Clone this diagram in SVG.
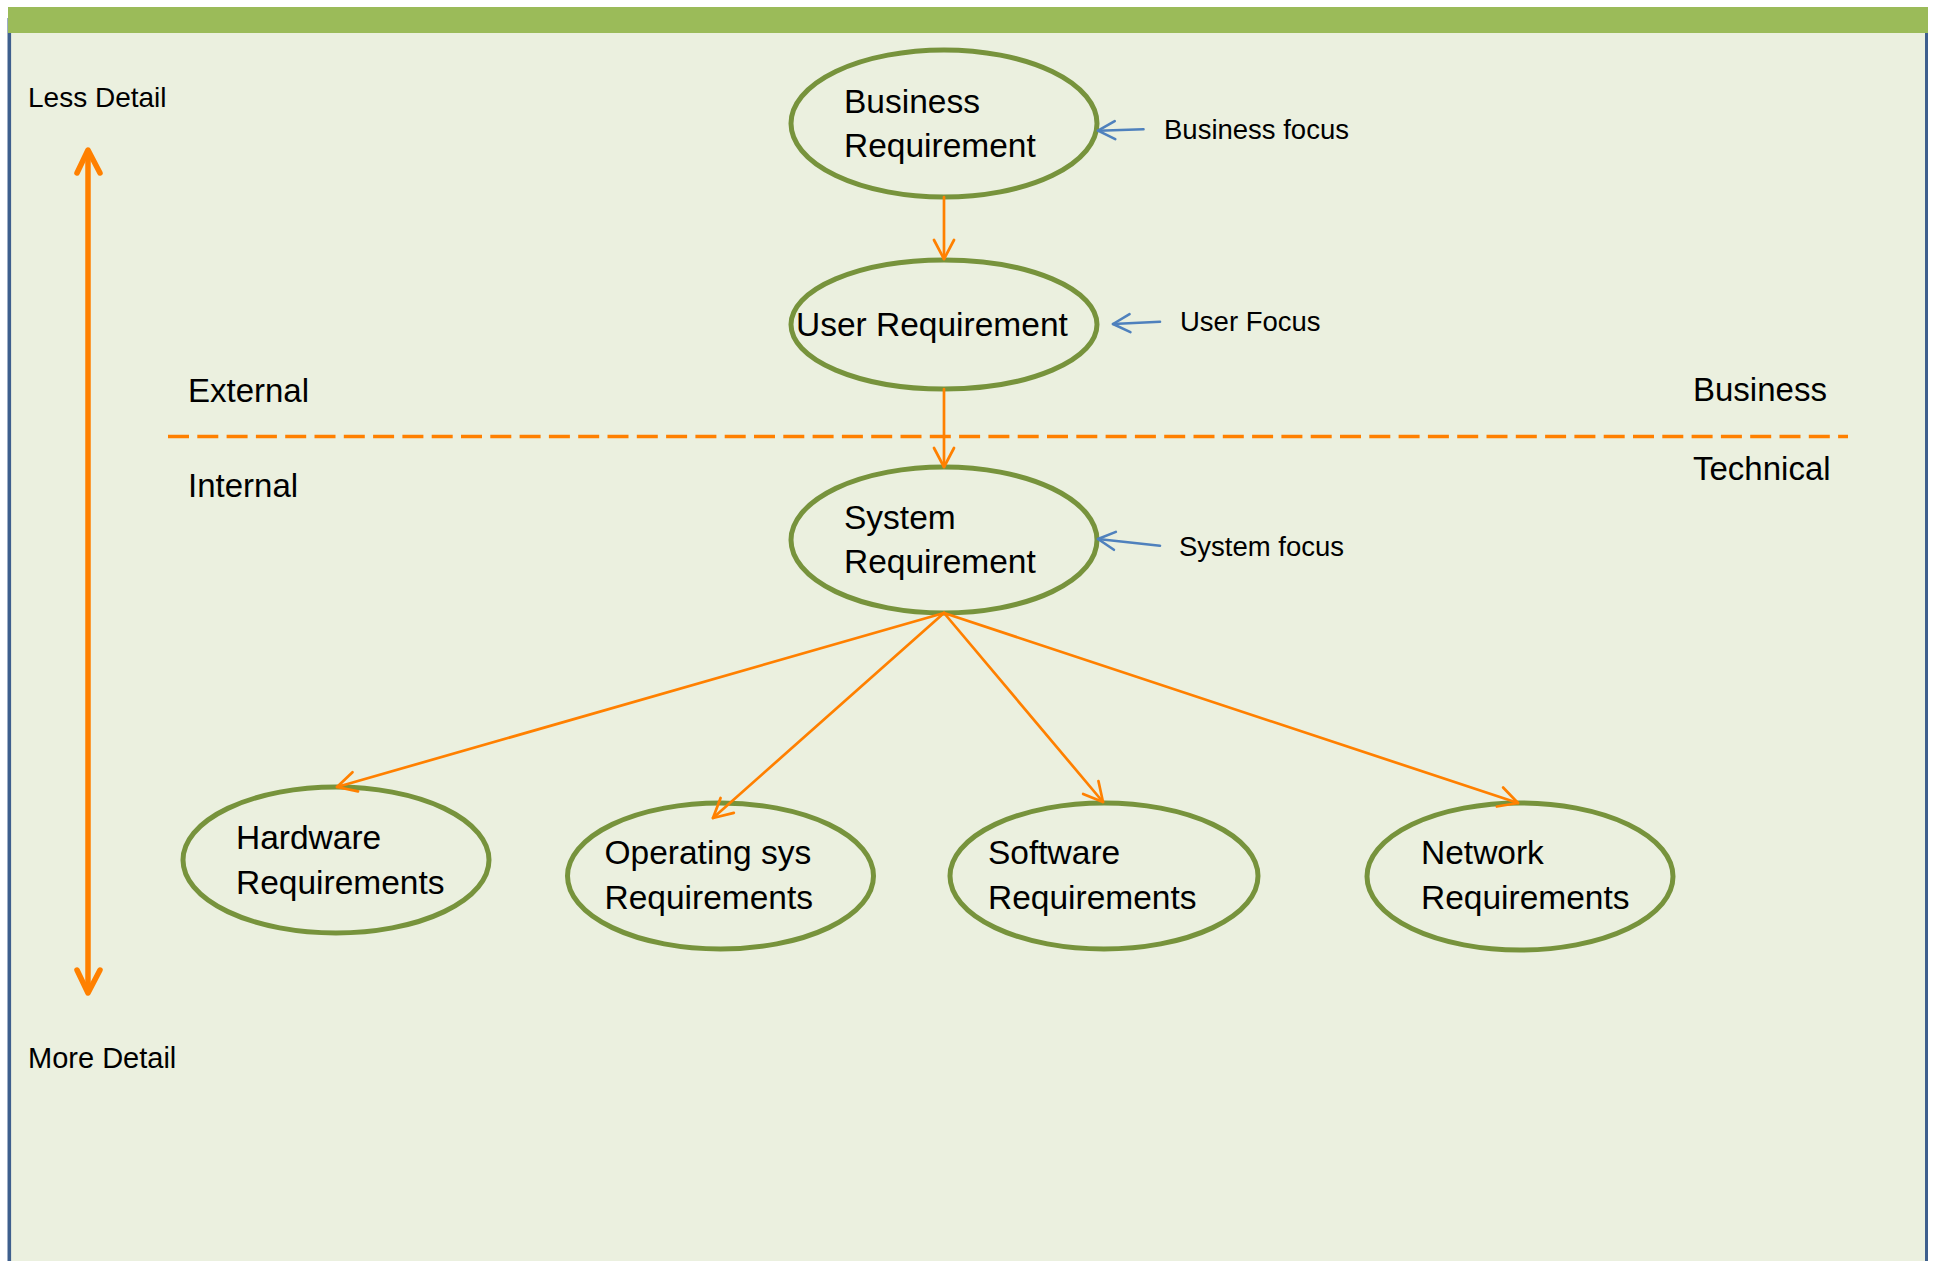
<svg xmlns="http://www.w3.org/2000/svg" width="1937" height="1261" viewBox="0 0 1937 1261">
  <defs>
    <style>
      .node { fill: none; stroke: #77933C; stroke-width: 5; }
      .t { font-family: "Liberation Sans", Arial, sans-serif; fill: #000000; }
      .nt { font-size: 33.5px; }
      .lt { font-size: 33px; }
      .st { font-size: 27.5px; }
      .flow { fill: none; stroke: #FF8000; stroke-width: 2.7; stroke-linecap: round; }
      .focus { fill: none; stroke: #4F81BD; stroke-width: 2.6; stroke-linecap: round; }
    </style>
    <marker id="headOrange" markerUnits="userSpaceOnUse" viewBox="-24 -14 28 28" markerWidth="28" markerHeight="28" refX="0" refY="0" orient="auto">
      <path d="M -19 -10 L 0 0 L -19 10" fill="none" stroke="#FF8000" stroke-width="2.7" stroke-linecap="round" stroke-linejoin="round"/>
    </marker>
    <marker id="headBlue" markerUnits="userSpaceOnUse" viewBox="-24 -14 28 28" markerWidth="28" markerHeight="28" refX="0" refY="0" orient="auto">
      <path d="M -17 -9 L 0 0 L -17 9" fill="none" stroke="#4F81BD" stroke-width="2.6" stroke-linecap="round" stroke-linejoin="round"/>
    </marker>
  </defs>

  <!-- page background and frame -->
  <rect x="0" y="0" width="1937" height="1261" fill="#FFFFFF"/>
  <rect x="8" y="33" width="1919" height="1228" fill="#EBF0DF"/>
  <line x1="9.3" y1="18" x2="9.3" y2="1261" stroke="#3E5F8D" stroke-width="3.6"/>
  <line x1="1926.5" y1="33" x2="1926.5" y2="1261" stroke="#3E5F8D" stroke-width="3"/>
  <rect x="8" y="7" width="1920" height="26" fill="#9BBB59"/>

  <!-- detail scale -->
  <g id="detail-scale">
    <text class="t" x="28" y="107" font-size="28">Less Detail</text>
    <text class="t" x="28" y="1068" font-size="29">More Detail</text>
    <line x1="88" y1="152" x2="88" y2="991" stroke="#FF8000" stroke-width="5.5" stroke-linecap="round"/>
    <path d="M 77 173 L 88 150 L 100 173" fill="none" stroke="#FF8000" stroke-width="5.5" stroke-linecap="round" stroke-linejoin="round"/>
    <path d="M 77 970 L 88 993 L 100 970" fill="none" stroke="#FF8000" stroke-width="5.5" stroke-linecap="round" stroke-linejoin="round"/>
  </g>

  <!-- external / internal boundary -->
  <g id="boundary">
    <line x1="168" y1="436.5" x2="1848" y2="436.5" stroke="#FF8000" stroke-width="3.5" stroke-dasharray="21 8.3"/>
    <text class="t lt" x="188" y="401.7">External</text>
    <text class="t lt" x="188" y="496.7">Internal</text>
    <text class="t lt" x="1693" y="400.7">Business</text>
    <text class="t lt" x="1693" y="480">Technical</text>
  </g>

  <!-- requirement nodes -->
  <g id="business-requirement">
    <ellipse class="node" cx="944" cy="123.5" rx="153" ry="73.5"/>
    <text class="t nt" x="844" y="112.7">Business</text>
    <text class="t nt" x="844" y="157">Requirement</text>
  </g>
  <g id="user-requirement">
    <ellipse class="node" cx="944" cy="324.5" rx="153" ry="64.5"/>
    <text class="t nt" x="796" y="336">User Requirement</text>
  </g>
  <g id="system-requirement">
    <ellipse class="node" cx="944" cy="540" rx="153" ry="73"/>
    <text class="t nt" x="844" y="529">System</text>
    <text class="t nt" x="844" y="573">Requirement</text>
  </g>
  <g id="hardware-requirements">
    <ellipse class="node" cx="336" cy="860" rx="153" ry="73"/>
    <text class="t nt" x="236" y="849">Hardware</text>
    <text class="t nt" x="236" y="894">Requirements</text>
  </g>
  <g id="os-requirements">
    <ellipse class="node" cx="720.5" cy="876" rx="153" ry="73"/>
    <text class="t nt" x="604.5" y="864">Operating sys</text>
    <text class="t nt" x="604.5" y="909">Requirements</text>
  </g>
  <g id="software-requirements">
    <ellipse class="node" cx="1104" cy="876" rx="154" ry="73"/>
    <text class="t nt" x="988" y="864">Software</text>
    <text class="t nt" x="988" y="909">Requirements</text>
  </g>
  <g id="network-requirements">
    <ellipse class="node" cx="1520" cy="876.5" rx="153" ry="73.5"/>
    <text class="t nt" x="1421" y="864">Network</text>
    <text class="t nt" x="1421" y="909">Requirements</text>
  </g>

  <!-- focus annotations -->
  <g id="focus-labels">
    <text class="t st" x="1164" y="139">Business focus</text>
    <text class="t st" x="1180" y="331">User Focus</text>
    <text class="t st" x="1179" y="556">System focus</text>
  </g>

  <!-- connectors -->
  <g id="connectors">
    <line class="flow" x1="944" y1="197" x2="944" y2="259" marker-end="url(#headOrange)"/>
    <line class="flow" x1="944" y1="389" x2="944" y2="467" marker-end="url(#headOrange)"/>
    <line class="flow" x1="944" y1="613" x2="337" y2="787" marker-end="url(#headOrange)"/>
    <line class="flow" x1="944" y1="613" x2="713" y2="818" marker-end="url(#headOrange)"/>
    <line class="flow" x1="944" y1="613" x2="1103" y2="802" marker-end="url(#headOrange)"/>
    <line class="flow" x1="944" y1="613" x2="1518" y2="803" marker-end="url(#headOrange)"/>
    <line class="focus" x1="1143.5" y1="129.3" x2="1098" y2="130.7" marker-end="url(#headBlue)"/>
    <line class="focus" x1="1160" y1="321.7" x2="1113" y2="324" marker-end="url(#headBlue)"/>
    <line class="focus" x1="1160" y1="545.7" x2="1098" y2="539" marker-end="url(#headBlue)"/>
  </g>
</svg>
